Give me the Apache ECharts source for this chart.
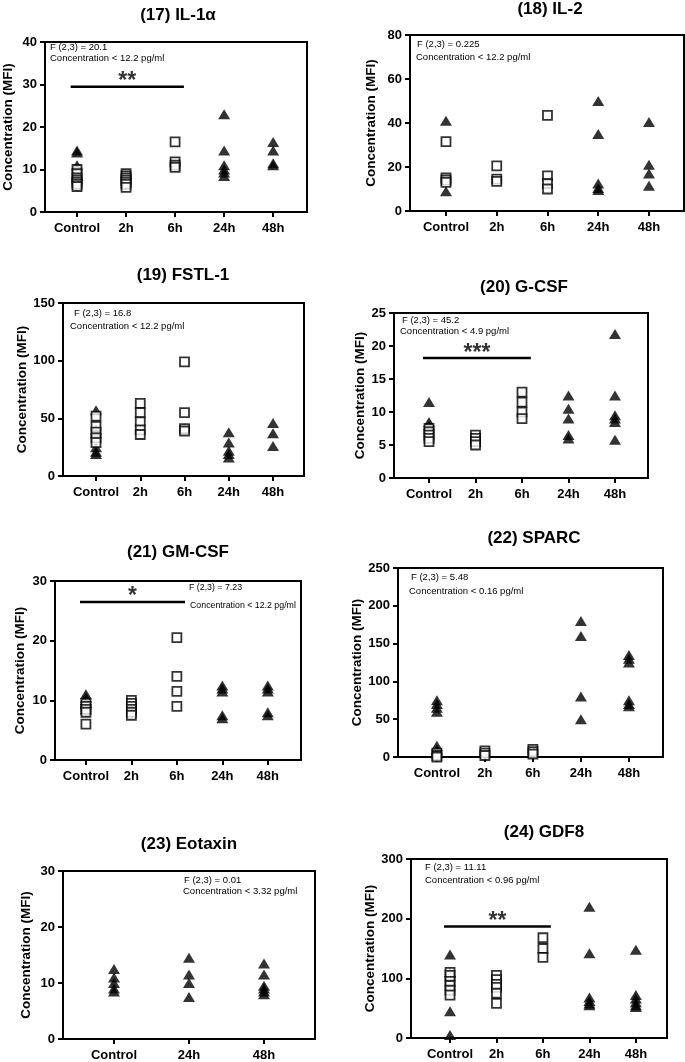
<!DOCTYPE html>
<html>
<head>
<meta charset="utf-8">
<script src="https://cdn.jsdelivr.net/npm/echarts@6/dist/echarts.min.js"></script>
<style>
html,body{margin:0;padding:0;background:#fff;}
#chart{width:685px;height:1062px;}
</style>
</head>
<body>
<div id="chart"></div>
<script>
var catsFive = ['Control', '2h', '6h', '24h', '48h'];
var catsThree = ['Control', '24h', '48h'];

// points are [category index, MFI]
// (17) IL-1a
var il1aTri = [[0,14.5],[0,14],[0,11],[0,9],[0,8.5],[3,23],[3,14.5],[3,11],[3,10],[3,9.3],[3,8.5],[4,16.5],[4,14.5],[4,11.5],[4,11]];
var il1aSq = [[0,10],[0,9],[0,8],[0,7.5],[0,7],[0,6.5],[0,6],[1,9],[1,8.5],[1,8],[1,7.5],[1,7],[1,6.5],[1,5.8],[2,16.5],[2,11.8],[2,11],[2,10.5]];
var il1aSig = [-0.13, 2.18, 29.5, 32, '**'];

// (18) IL-2
var il2Tri = [[0,41],[0,9],[3,50],[3,35],[3,12.5],[3,10.5],[3,9.5],[4,40.5],[4,21],[4,17],[4,11.5]];
var il2Sq = [[0,31.5],[0,15],[0,14],[0,13],[1,20.5],[1,14.5],[1,13.5],[2,43.5],[2,16],[2,12.5],[2,10]];

// (19) FSTL-1
var fstlTri = [[0,57],[0,40],[0,37],[0,25],[0,21],[0,19],[3,38],[3,29],[3,22],[3,19],[3,16],[4,46],[4,37],[4,26]];
var fstlSq = [[0,52],[0,43],[0,38],[0,33],[0,29],[1,63],[1,55],[1,47],[1,40],[1,36],[2,99],[2,55],[2,41],[2,39]];

// (20) G-CSF
var gcsfTri = [[0,11.5],[0,8.5],[0,8],[3,12.5],[3,10.5],[3,9],[3,6.5],[3,6],[4,21.8],[4,12.5],[4,9.5],[4,9],[4,8.5],[4,5.8]];
var gcsfSq = [[0,7.5],[0,7],[0,6.5],[0,6],[0,5.5],[1,6.5],[1,6],[1,5.5],[1,5],[2,13],[2,11.5],[2,10],[2,9]];
var gcsfSig = [-0.13, 2.19, 18.2, 19.8, '***'];

// (21) GM-CSF
var gmcsfTri = [[0,11],[0,10.5],[0,10],[0,9.5],[0,8.5],[3,12.5],[3,12],[3,11.5],[3,7.5],[3,7],[4,12.5],[4,12],[4,11.5],[4,8],[4,7.5]];
var gmcsfSq = [[0,9.5],[0,9],[0,8.5],[0,8],[0,6],[1,10],[1,9.5],[1,9],[1,8.5],[1,8],[1,7.5],[2,20.5],[2,14],[2,11.5],[2,9]];
var gmcsfSig = [-0.13, 2.18, 26.5, 28.4, '*'];

// (22) SPARC
var sparcTri = [[0,75],[0,70],[0,65],[0,60],[0,15],[0,10],[3,180],[3,160],[3,80],[3,50],[4,135],[4,130],[4,125],[4,75],[4,70],[4,67]];
var sparcSq = [[0,5],[0,2],[0,0],[1,8],[1,5],[1,2],[2,10],[2,7],[2,4]];

// (23) Eotaxin
var eotaxinTri = [[0,12.5],[0,11],[0,10],[0,9],[0,8.5],[1,14.5],[1,11.5],[1,10],[1,7.5],[2,13.5],[2,11.5],[2,9.5],[2,9],[2,8.5],[2,8]];
var eotaxinSq = [];

// (24) GDF8
var gdf8Tri = [[0,140],[0,110],[0,45],[0,5],[3,220],[3,142],[3,68],[3,62],[3,58],[3,55],[4,148],[4,72],[4,66],[4,60],[4,55],[4,52]];
var gdf8Sq = [[0,110],[0,105],[0,95],[0,88],[0,80],[0,72],[1,105],[1,98],[1,90],[1,85],[1,75],[1,58],[2,168],[2,150],[2,135]];
var gdf8Sig = [-0.13, 2.17, 187, 205, '**'];

var FONT = 'Arial, "Liberation Sans", sans-serif';

var panels = [
    {title:'(17) IL-1\u03b1', tx:178, ty:15, cats:catsFive, tri:il1aTri, sq:il1aSq, sig:il1aSig,
     left:45, top:42, w:262, h:170, xmin:-0.653, xmax:4.69, ymax:40, step:10, gap:30, fs:9.5,
     notes:['F (2,3) = 20.1', 'Concentration < 12.2 pg/ml'], nx:[50,50], ny:[47,58]},
    {title:'(18) IL-2', tx:550, ty:9, cats:catsFive, tri:il2Tri, sq:il2Sq,
     left:410, top:35, w:274, h:176, xmin:-0.709, xmax:4.69, ymax:80, step:20, gap:32, fs:9.5,
     notes:['F (2,3) = 0.225', 'Concentration < 12.2 pg/ml'], nx:[417,416], ny:[44,57]},
    {title:'(19) FSTL-1', tx:183, ty:275, cats:catsFive, tri:fstlTri, sq:fstlSq,
     left:63, top:303, w:241, h:173, xmin:-0.746, xmax:4.70, ymax:150, step:50, gap:32, fs:9.5,
     notes:['F (2,3) = 16.8', 'Concentration < 12.2 pg/ml'], nx:[74,70], ny:[313,326]},
    {title:'(20) G-CSF', tx:524, ty:287, cats:catsFive, tri:gcsfTri, sq:gcsfSq, sig:gcsfSig,
     left:394, top:313, w:254, h:165, xmin:-0.753, xmax:4.71, ymax:25, step:5, gap:26, fs:9.5,
     notes:['F (2,3) = 45.2', 'Concentration < 4.9 pg/ml'], nx:[402,400], ny:[320,331]},
    {title:'(21) GM-CSF', tx:178, ty:552, cats:catsFive, tri:gmcsfTri, sq:gmcsfSq, sig:gmcsfSig,
     left:55, top:581, w:246, h:179, xmin:-0.68, xmax:4.73, ymax:30, step:10, gap:28, fs:8.8,
     notes:['F (2,3) = 7.23', 'Concentration < 12.2 pg/ml'], nx:[189,190], ny:[588,606]},
    {title:'(22) SPARC', tx:534, ty:538, cats:catsFive, tri:sparcTri, sq:sparcSq,
     left:398, top:568, w:265, h:189, xmin:-0.81, xmax:4.71, ymax:250, step:50, gap:31, fs:9.5,
     notes:['F (2,3) = 5.48', 'Concentration < 0.16 pg/ml'], nx:[411,409], ny:[577,591]},
    {title:'(23) Eotaxin', tx:189, ty:844, cats:catsThree, tri:eotaxinTri, sq:eotaxinSq,
     left:63, top:871, w:252, h:170, xmin:-0.68, xmax:2.68, ymax:30, step:10, gap:30, fs:9.5,
     notes:['F (2,3) = 0.01', 'Concentration < 3.32 pg/ml'], nx:[184,183], ny:[880,891]},
    {title:'(24) GDF8', tx:544, ty:832, cats:catsFive, tri:gdf8Tri, sq:gdf8Sq, sig:gdf8Sig,
     left:411, top:859, w:256, h:179, xmin:-0.84, xmax:4.67, ymax:300, step:100, gap:28, fs:9.5,
     notes:['F (2,3) = 11.11', 'Concentration < 0.96 pg/ml'], nx:[425,425], ny:[867,880]}
];

var option = {
    animation: false,
    backgroundColor: '#fff',
    textStyle: {fontFamily: FONT},
    grid: [], xAxis: [], yAxis: [], series: [], graphic: []
};

panels.forEach(function (p, i) {
    var ticks = p.cats.map(function (c, k) { return k; });
    option.grid.push({
        left: p.left, top: p.top, width: p.w, height: p.h,
        show: true, borderColor: '#000', borderWidth: 2, backgroundColor: '#fff'
    });
    option.xAxis.push({
        gridIndex: i, type: 'value', min: p.xmin, max: p.xmax,
        axisLine: {onZero: false, lineStyle: {color: '#000', width: 2}},
        axisTick: {show: true, customValues: ticks, length: 5, lineStyle: {color: '#000', width: 2}},
        axisLabel: {
            customValues: ticks, margin: 10, color: '#000', fontWeight: 'bold', fontSize: 13, fontFamily: FONT,
            formatter: function (v) { return p.cats[Math.round(v)]; }
        },
        splitLine: {show: false}
    });
    option.yAxis.push({
        gridIndex: i, type: 'value', min: 0, max: p.ymax, interval: p.step,
        axisLine: {show: true, onZero: false, lineStyle: {color: '#000', width: 2}},
        axisTick: {show: true, length: 5, lineStyle: {color: '#000', width: 2}},
        axisLabel: {margin: 8, color: '#000', fontWeight: 'bold', fontSize: 13, fontFamily: FONT},
        splitLine: {show: false},
        name: 'Concentration (MFI)', nameLocation: 'middle', nameGap: p.gap,
        nameTextStyle: {color: '#000', fontWeight: 'bold', fontSize: 13.5, fontFamily: FONT}
    });
    option.series.push({
        type: 'scatter', xAxisIndex: i, yAxisIndex: i, data: p.tri,
        symbol: 'triangle', symbolSize: [12, 10],
        itemStyle: {color: '#000'}, z: 3
    });
    if (p.sq.length) {
        option.series.push({
            type: 'scatter', xAxisIndex: i, yAxisIndex: i, data: p.sq,
            symbol: 'rect', symbolSize: 9,
            itemStyle: {color: '#fff', borderColor: '#000', borderWidth: 1.8}, z: 4
        });
    }
    if (p.sig) {
        // significance bar + stars
        option.series.push({
            type: 'line', xAxisIndex: i, yAxisIndex: i,
            data: [[p.sig[0], p.sig[2]], [p.sig[1], p.sig[2]]],
            symbol: 'none', lineStyle: {color: '#000', width: 2.5}, z: 5
        });
        option.series.push({
            type: 'scatter', xAxisIndex: i, yAxisIndex: i,
            data: [[(p.sig[0] + p.sig[1]) / 2, p.sig[3]]], symbolSize: 0,
            label: {show: true, position: 'inside', formatter: p.sig[4], offset: [0, 6],
                    color: '#000', fontSize: 23, fontWeight: 'bold', fontFamily: FONT},
            z: 5
        });
    }
    option.graphic.push({
        type: 'text', x: p.tx, y: p.ty, z: 10,
        style: {text: p.title, align: 'center', verticalAlign: 'middle', fill: '#000',
                font: 'bold 17px ' + FONT}
    });
    p.notes.forEach(function (t, k) {
        option.graphic.push({
            type: 'text', x: p.nx[k], y: p.ny[k], z: 10,
            style: {text: t, align: 'left', verticalAlign: 'middle', fill: '#000',
                    font: p.fs + 'px ' + FONT}
        });
    });
});

var myChart = echarts.init(document.getElementById('chart'));
myChart.setOption(option);
</script>
</body>
</html>
